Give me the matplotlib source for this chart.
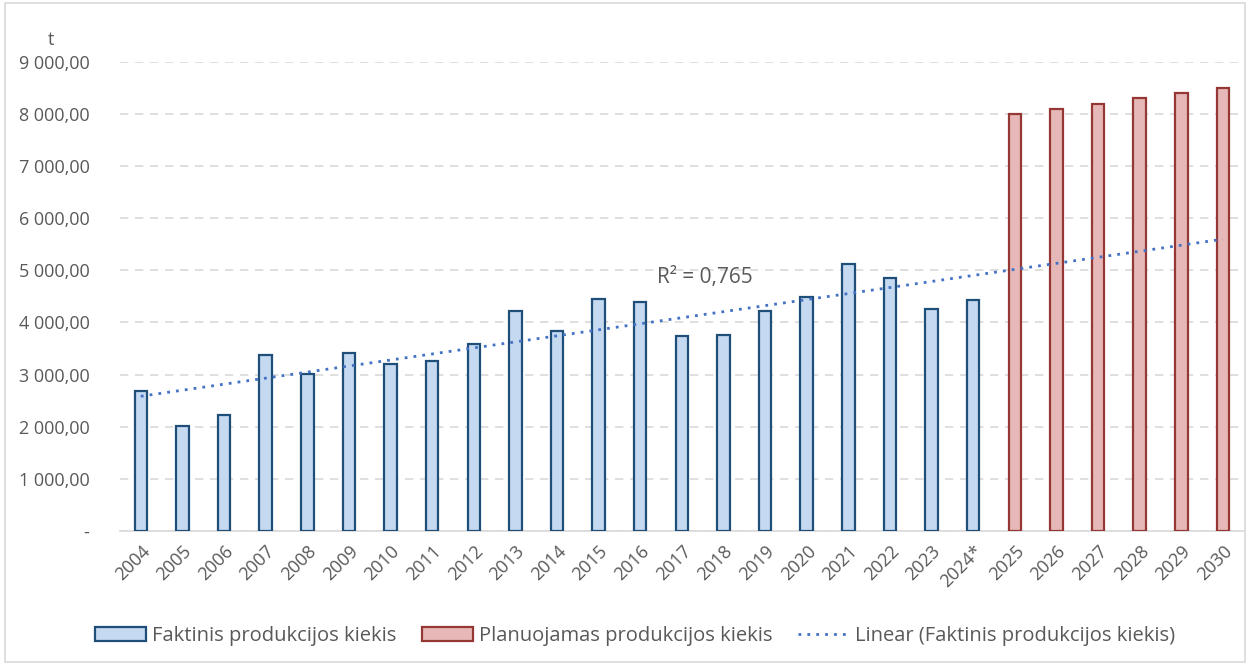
import matplotlib.pyplot as plt
import numpy as np
from matplotlib.patches import Rectangle
from matplotlib.ticker import FuncFormatter

plt.rcParams['font.family'] = ['Open Sans', 'DejaVu Sans']

# data (t)
years_actual = ["2004", "2005", "2006", "2007", "2008", "2009", "2010", "2011", "2012",
                "2013", "2014", "2015", "2016", "2017", "2018", "2019", "2020", "2021",
                "2022", "2023", "2024*"]
actual = [2690, 2020, 2230, 3380, 3020, 3420, 3200, 3270, 3580,
          4220, 3840, 4460, 4400, 3740, 3760, 4220, 4480, 5130,
          4860, 4260, 4440]
years_plan = ["2025", "2026", "2027", "2028", "2029", "2030"]
planned = [8000, 8100, 8200, 8300, 8400, 8500]

labels = years_actual + years_plan
x_act = np.arange(len(actual))
x_plan = np.arange(len(actual), len(labels))

# linear trend on actual values, extended to the last year
coef = np.polyfit(x_act, actual, 1)
x_tr = np.arange(len(labels))
trend = np.polyval(coef, x_tr)

fig = plt.figure(figsize=(12.5, 6.65), dpi=100)
ax = fig.add_axes([0.096, 0.2015, 0.899, 0.7055])

b1 = ax.bar(x_act, actual, width=0.3, color="#c5d9f1", edgecolor="#1f4e79", linewidth=1.6,
            label="Faktinis produkcijos kiekis", zorder=3)
b2 = ax.bar(x_plan, planned, width=0.3, color="#e6b9b8", edgecolor="#953735", linewidth=1.6,
            label="Planuojamas produkcijos kiekis", zorder=3)
ln, = ax.plot(x_tr, trend, linestyle=(0, (1, 2.2)), color="#4472c4", linewidth=2,
              label="Linear (Faktinis produkcijos kiekis)", zorder=4)

ax.set_xlim(-0.5, len(labels) - 0.5)
ax.set_ylim(0, 9000)
ax.set_yticks(np.arange(0, 9001, 1000))


def fmt(v, pos):
    if v == 0:
        return "-"
    return "{:,.2f}".format(v).replace(",", " ").replace(".", ",")


ax.yaxis.set_major_formatter(FuncFormatter(fmt))
ax.set_xticks(x_tr)
ax.set_xticklabels(labels, rotation=45, ha="right", rotation_mode="anchor")
ax.tick_params(axis="both", length=0, labelsize=13, colors="#595959")
ax.tick_params(axis="y", pad=22)
ax.tick_params(axis="x", pad=8)

ax.grid(axis="y", linestyle=(0, (5, 4)), color="#d9d9d9", linewidth=1.2, zorder=0)
for s in ["top", "right", "left"]:
    ax.spines[s].set_visible(False)
ax.spines["bottom"].set_color("#d9d9d9")
ax.spines["bottom"].set_linewidth(1.2)

fig.text(0.041, 0.932, "t", fontsize=13, color="#595959", ha="center")
fig.text(0.564, 0.575, "R² = 0,765", fontsize=15, color="#595959", ha="center")

fig.legend(handles=[b1, b2, ln], loc="center", bbox_to_anchor=(0.508, 0.044), ncol=3,
           frameon=False, fontsize=14.5, labelcolor="#595959", handlelength=2.5,
           columnspacing=1.3, handletextpad=0.3)

fig.add_artist(Rectangle((0.004, 0.004), 0.992, 0.992, transform=fig.transFigure,
                         fill=False, edgecolor="#d9d9d9", linewidth=1.2))

fig.savefig("out.png", dpi=100)
